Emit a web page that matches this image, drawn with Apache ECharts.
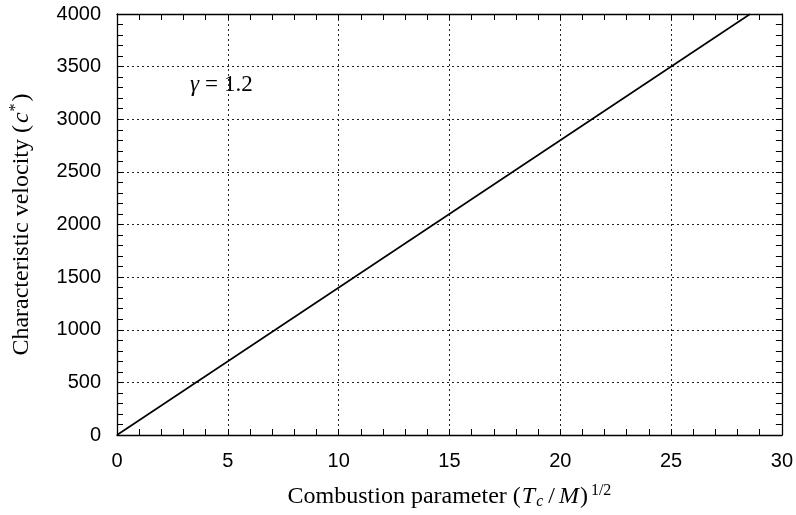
<!DOCTYPE html>
<html>
<head>
    <meta charset="UTF-8">
    <title>c* vs combustion parameter</title>
    <script src="https://cdn.jsdelivr.net/npm/echarts@6/dist/echarts.min.js"></script>
    <style>
        html, body { margin: 0; padding: 0; background: #fff; }
        #main { width: 796px; height: 515px; }
    </style>
</head>
<body>
<div id="main"></div>
<script>
    // data: c* = 140 * x  (gamma = 1.2)
    var lineX = [0, 28.57];
    var lineY = [0, 4000];
    var xTicks = [0, 5, 10, 15, 20, 25, 30];
    var yTicks = [0, 500, 1000, 1500, 2000, 2500, 3000, 3500, 4000];

    var chart = echarts.init(document.getElementById('main'));

    var labelFont = {fontFamily: 'Liberation Sans', fontSize: 20, color: '#000',
        formatter: function (v) { return String(v); }};
    var gridDotted = {show: true, lineStyle: {color: '#222', type: [2, 3], width: 1}};

    function axisBase(extra) {
        var a = {
            axisLine: {show: true, onZero: false, lineStyle: {color: '#000', width: 1.3}},
            axisTick: {show: true, inside: true, length: 6, lineStyle: {color: '#000'}},
            minorTick: {show: true, splitNumber: 5, length: 6, lineStyle: {color: '#000'}},
            splitLine: {show: false}
        };
        for (var k in extra) a[k] = extra[k];
        return a;
    }

    var serif = 'Liberation Serif';
    var option = {
        animation: false,
        grid: {left: 117, right: 14, top: 14, bottom: 78},
        xAxis: [
            axisBase({
                type: 'value', min: xTicks[0], max: xTicks[xTicks.length - 1], interval: 5,
                position: 'bottom',
                axisLabel: Object.assign({margin: 16}, labelFont),
                splitLine: gridDotted,
                name: '{t|Combustion parameter }{t|(}{i|T}{s|c}{d|/}{i|M}{t|)}{p|1/2}',
                nameLocation: 'middle', nameGap: 48,
                nameTextStyle: {
                    rich: {
                        t: {fontFamily: serif, fontSize: 24, color: '#000'},
                        d: {fontFamily: serif, fontSize: 24, color: '#000', padding: [0, 3, 0, 3]},
                        i: {fontFamily: serif, fontStyle: 'italic', fontSize: 24, color: '#000', padding: [0, 1, 0, 1]},
                        s: {fontFamily: serif, fontStyle: 'italic', fontSize: 16, color: '#000', verticalAlign: 'bottom', padding: [9, 2, 0, 0]},
                        p: {fontFamily: serif, fontSize: 16, color: '#000', verticalAlign: 'top', padding: [0, 0, 11, 3]}
                    }
                }
            }),
            axisBase({
                type: 'value', min: xTicks[0], max: xTicks[xTicks.length - 1], interval: 5,
                position: 'top', axisLabel: {show: false}
            })
        ],
        yAxis: [
            axisBase({
                type: 'value', min: yTicks[0], max: yTicks[yTicks.length - 1], interval: 500,
                position: 'left',
                axisLabel: Object.assign({margin: 16}, labelFont),
                splitLine: gridDotted,
                name: '{t|Characteristic velocity }{t|(}{i|c}{p|*}{t|)}',
                nameLocation: 'middle', nameGap: 82, nameRotate: 90,
                nameTextStyle: {
                    rich: {
                        t: {fontFamily: serif, fontSize: 24, color: '#000'},
                        i: {fontFamily: serif, fontStyle: 'italic', fontSize: 24, color: '#000', padding: [0, 1, 0, 2]},
                        p: {fontFamily: serif, fontSize: 16, color: '#000', verticalAlign: 'top', padding: [0, 2, 11, 0]}
                    }
                }
            }),
            axisBase({
                type: 'value', min: yTicks[0], max: yTicks[yTicks.length - 1], interval: 500,
                position: 'right', axisLabel: {show: false}
            })
        ],
        graphic: [{
            type: 'text', left: 190, top: 73,
            style: {
                text: '{g|γ}{e|=}{t|1.2}',
                rich: {
                    g: {fontFamily: serif, fontStyle: 'italic', fontSize: 23, fill: '#000'},
                    e: {fontFamily: serif, fontSize: 23, fill: '#000', padding: [0, 6, 0, 6]},
                    t: {fontFamily: serif, fontSize: 23, fill: '#000'}
                }
            }
        }],
        series: [{
            type: 'line',
            data: lineX.map(function (x, i) { return [x, lineY[i]]; }),
            symbol: 'none',
            lineStyle: {color: '#000', width: 1.6}
        }]
    };

    chart.setOption(option);
</script>
</body>
</html>
